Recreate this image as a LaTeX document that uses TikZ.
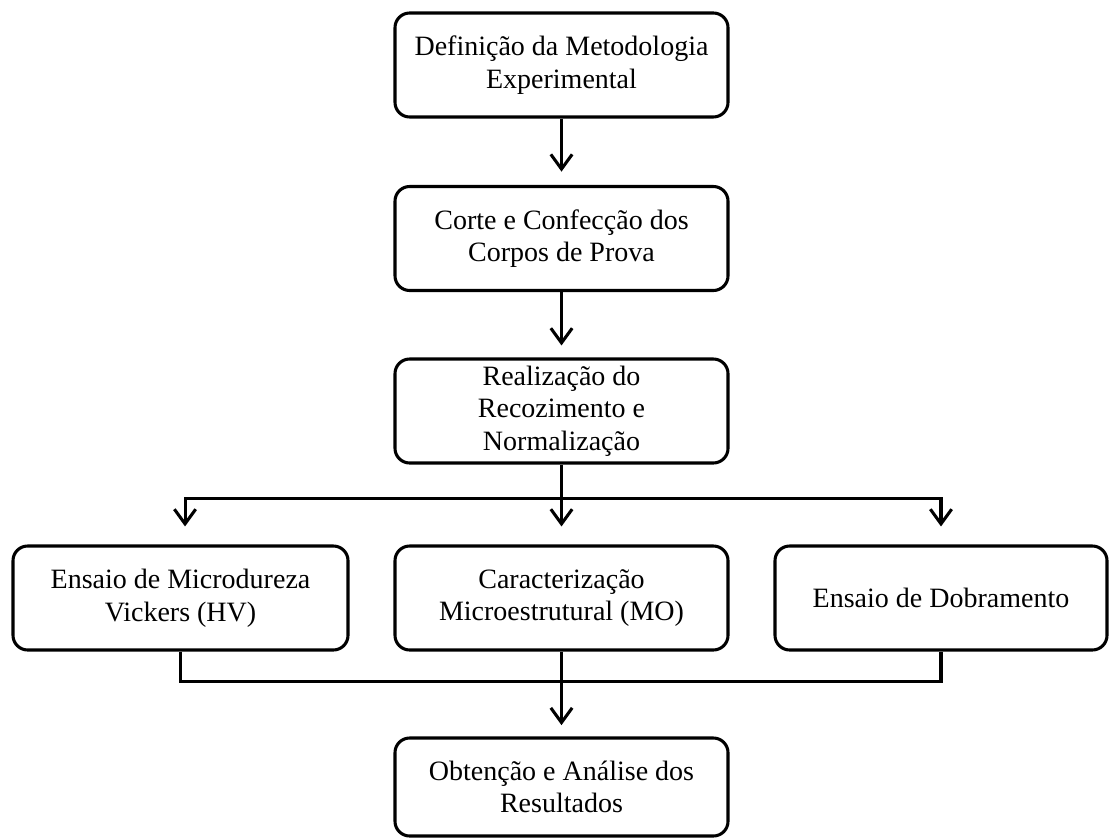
\documentclass[tikz,border=0pt]{standalone}
\usepackage{fontspec}
\setmainfont{Liberation Serif}
\usetikzlibrary{arrows.meta}
\begin{document}
\begin{tikzpicture}[x=0.75pt,y=-0.75pt,
  box/.style={draw=black, line width=2.3pt, rounded corners=11pt, align=center,
    minimum width=249.75pt, minimum height=78pt, inner sep=0pt,
    font=\fontsize{21}{24.5}\selectfont},
  conn/.style={line width=2.3pt},
  arr/.style={conn, -{Straight Barb[length=11pt,width=16pt]}}
]
\useasboundingbox[fill=white] (0,0) rectangle (1109,838);
\node[box] (b1) at (561.5,65) {Definição da Metodologia\\Experimental};
\node[box] (b2) at (561.5,238.5) {Corte e Confecção dos\\Corpos de Prova};
\node[box] (b3) at (561.5,411) {Realização do\\Recozimento e\\Normalização};
\node[box, minimum width=251.25pt] (left) at (180.5,598) {Ensaio de Microdureza\\Vickers (HV)};
\node[box] (mid) at (561.5,598) {Caracterização\\Microestrutural (MO)};
\node[box, minimum width=249pt] (right) at (941,598) {Ensaio de Dobramento};
\node[box, minimum height=73.5pt] (bot) at (561.5,787) {Obtenção e Análise dos\\Resultados};

\draw[arr, shorten >=10pt] (b1.south) -- (b2.north);
\draw[arr, shorten >=9pt] (b2.south) -- (b3.north);
\draw[arr, shorten >=13.5pt] (b3.south) -- (mid.north);
\coordinate (split) at ([yshift=-25.5pt]b3.south);
\draw[arr, shorten >=13.5pt] (split) -| ([xshift=3.4pt]left.north);
\draw[arr, shorten >=13.5pt] (split) -| (right.north);
\draw[conn] (left.south) -- ++(0,30) -| (right.south);
\draw[arr, shorten >=8.5pt] (mid.south) -- (bot.north);
\end{tikzpicture}
\end{document}
